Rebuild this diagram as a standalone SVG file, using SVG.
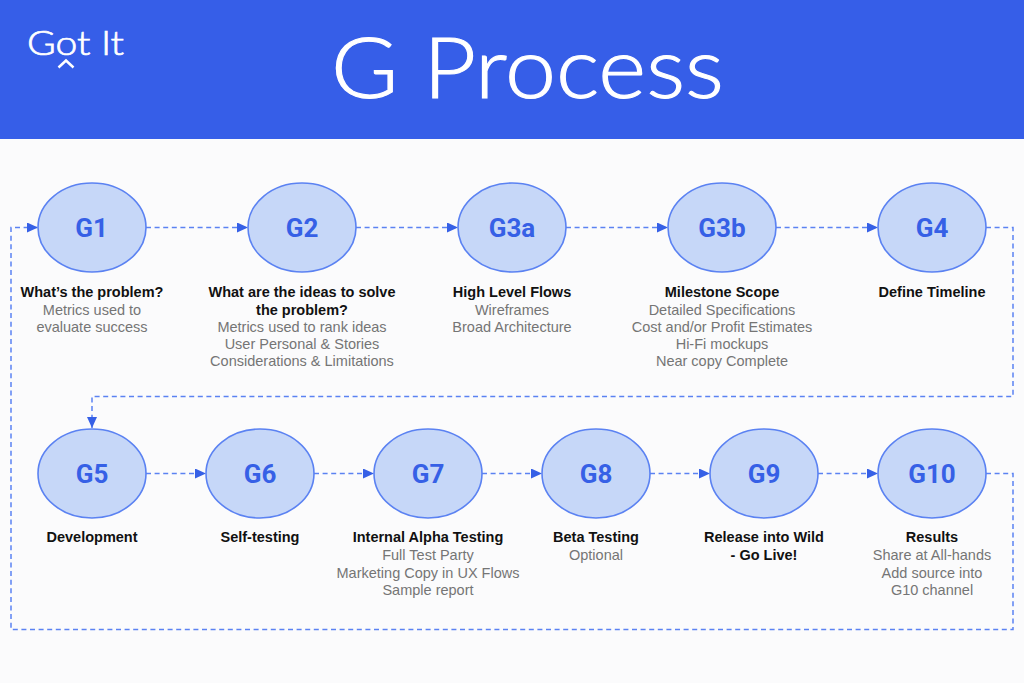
<svg xmlns="http://www.w3.org/2000/svg" width="1024" height="683" viewBox="0 0 1024 683">
<style>
.n{fill:#c6d7f8;stroke:#5b82f2;stroke-width:1.6}
.g{font:700 26px Roboto,sans-serif;fill:#3660e6;text-anchor:middle}
.h{font:700 14.5px "Liberation Sans",Arial,sans-serif;fill:#111;text-anchor:middle}
.t{font:400 14.5px "Liberation Sans",Arial,sans-serif;fill:#757575;text-anchor:middle}
.c{fill:none;stroke:#5b82f2;stroke-width:1.5;stroke-dasharray:5 3.6}
.b{fill:#fff;stroke:#fff;font-family:Lato,"Open Sans",sans-serif;font-weight:300}
</style>
<defs><marker id="a" markerUnits="userSpaceOnUse" markerWidth="11" markerHeight="10" refX="11" refY="5" orient="auto"><path d="M0 0L11 5L0 10Z" fill="#3660e6"/></marker></defs>
<rect width="1024" height="683" fill="#fbfbfc"/>
<rect id="header" width="1024" height="139" fill="#365ee8"/>
<g id="logo"><text class="b" x="27" y="55" font-size="34" stroke-width="0.7" textLength="97" lengthAdjust="spacingAndGlyphs">Got It</text><path d="M58.500 67.500L66 60.500L73.500 67.500" fill="none" stroke="#fff" stroke-width="2.500"/></g>
<text id="title" class="b" x="331" y="98" font-size="85" stroke-width="1.100" textLength="393" lengthAdjust="spacingAndGlyphs">G Process</text>
<g id="connectors">
<path class="c" d="M146 227.500H248" marker-end="url(#a)"/>
<path class="c" d="M356 227.500H458" marker-end="url(#a)"/>
<path class="c" d="M566 227.500H668" marker-end="url(#a)"/>
<path class="c" d="M776 227.500H878" marker-end="url(#a)"/>
<path class="c" d="M986 227.500H1013V396.500H92V428" marker-end="url(#a)"/>
<path class="c" d="M146 473.500H206" marker-end="url(#a)"/>
<path class="c" d="M314 473.500H374" marker-end="url(#a)"/>
<path class="c" d="M482 473.500H542" marker-end="url(#a)"/>
<path class="c" d="M650 473.500H710" marker-end="url(#a)"/>
<path class="c" d="M818 473.500H878" marker-end="url(#a)"/>
<path class="c" d="M986 473.500H1013V629.500H11V227.500H38" marker-end="url(#a)"/>
</g>
<g id="g1"><ellipse class="n" cx="92" cy="227.500" rx="54" ry="44.500"/><text class="g" x="91.500" y="237">G1</text><text class="h" x="92" y="297">What’s the problem?</text><text class="t" x="92" y="314.500">Metrics used to</text><text class="t" x="92" y="332">evaluate success</text></g>
<g id="g2"><ellipse class="n" cx="302" cy="227.500" rx="54" ry="44.500"/><text class="g" x="302" y="237">G2</text><text class="h" x="302" y="297">What are the ideas to solve</text><text class="h" x="302" y="314.500">the problem?</text><text class="t" x="302" y="332">Metrics used to rank ideas</text><text class="t" x="302" y="349">User Personal &amp; Stories</text><text class="t" x="302" y="366">Considerations &amp; Limitations</text></g>
<g id="g3a"><ellipse class="n" cx="512" cy="227.500" rx="54" ry="44.500"/><text class="g" x="512" y="237">G3a</text><text class="h" x="512" y="297">High Level Flows</text><text class="t" x="512" y="314.500">Wireframes</text><text class="t" x="512" y="332">Broad Architecture</text></g>
<g id="g3b"><ellipse class="n" cx="722" cy="227.500" rx="54" ry="44.500"/><text class="g" x="722" y="237">G3b</text><text class="h" x="722" y="297">Milestone Scope</text><text class="t" x="722" y="314.500">Detailed Specifications</text><text class="t" x="722" y="332">Cost and/or Profit Estimates</text><text class="t" x="722" y="349">Hi-Fi mockups</text><text class="t" x="722" y="366">Near copy Complete</text></g>
<g id="g4"><ellipse class="n" cx="932" cy="227.500" rx="54" ry="44.500"/><text class="g" x="932" y="237">G4</text><text class="h" x="932" y="297">Define Timeline</text></g>
<g id="g5"><ellipse class="n" cx="92" cy="473.500" rx="54" ry="44.500"/><text class="g" x="92" y="483">G5</text><text class="h" x="92" y="542">Development</text></g>
<g id="g6"><ellipse class="n" cx="260" cy="473.500" rx="54" ry="44.500"/><text class="g" x="260" y="483">G6</text><text class="h" x="260" y="542">Self-testing</text></g>
<g id="g7"><ellipse class="n" cx="428" cy="473.500" rx="54" ry="44.500"/><text class="g" x="428" y="483">G7</text><text class="h" x="428" y="542">Internal Alpha Testing</text><text class="t" x="428" y="560">Full Test Party</text><text class="t" x="428" y="577.500">Marketing Copy in UX Flows</text><text class="t" x="428" y="595">Sample report</text></g>
<g id="g8"><ellipse class="n" cx="596" cy="473.500" rx="54" ry="44.500"/><text class="g" x="596" y="483">G8</text><text class="h" x="596" y="542">Beta Testing</text><text class="t" x="596" y="560">Optional</text></g>
<g id="g9"><ellipse class="n" cx="764" cy="473.500" rx="54" ry="44.500"/><text class="g" x="764" y="483">G9</text><text class="h" x="764" y="542">Release into Wild</text><text class="h" x="764" y="560">- Go Live!</text></g>
<g id="g10"><ellipse class="n" cx="932" cy="473.500" rx="54" ry="44.500"/><text class="g" x="932" y="483">G10</text><text class="h" x="932" y="542">Results</text><text class="t" x="932" y="560">Share at All-hands</text><text class="t" x="932" y="577.500">Add source into</text><text class="t" x="932" y="595">G10 channel</text></g>
</svg>
